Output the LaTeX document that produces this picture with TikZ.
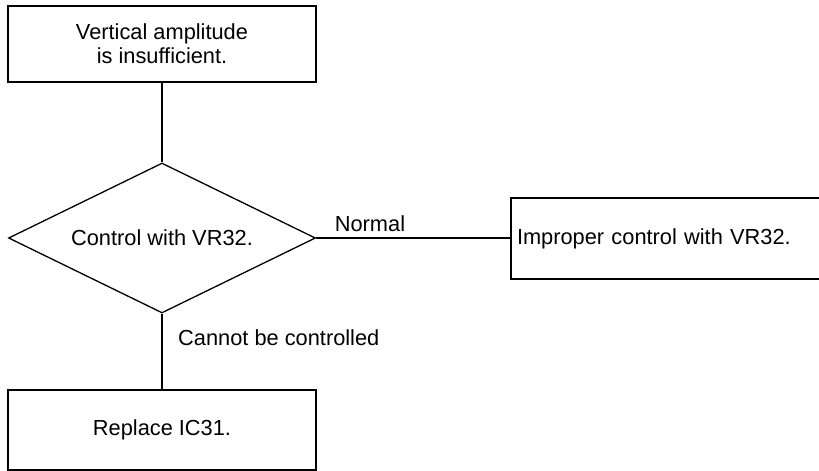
\documentclass[tikz,border=0pt]{standalone}
\usepackage{fontspec}
\setmainfont{Liberation Sans}
\usetikzlibrary{shapes.geometric}
\begin{document}
\begin{tikzpicture}[x=1pt,y=-1pt,
  every node/.style={font=\fontsize{21.8}{24}\selectfont, inner sep=0pt},
  box/.style={draw, line width=1.3pt, align=center},
  dec/.style={draw, diamond, aspect=2.05, line width=1.3pt, minimum width=307pt, minimum height=150pt},
  conn/.style={line width=1.3pt}]
\useasboundingbox (0,0) rectangle (819,471);
\clip (0,0) rectangle (819,471);
\node[box, minimum width=308pt, minimum height=76pt] (top) at (162,44) {Vertical amplitude\\is insufficient.};
\node[dec] (dec) at (162,238) {Control with VR32.};
\node[box, minimum width=311pt, minimum height=81pt, text width=299pt, inner xsep=6pt, align=left] (right) at (666.5,238.5) {Improper control with VR32.};
\node[box, minimum width=308pt, minimum height=80pt] (bot) at (162,430) {Replace IC31.};
\draw[conn] (top.south) -- (dec.north);
\draw[conn] (dec.east) -- (dec.east -| right.west);
\draw[conn] (dec.south) -- (bot.north);
\node (normal) at (370,224) {Normal};
\node[anchor=west] (cbc) at (178,338) {Cannot be controlled};
\end{tikzpicture}
\end{document}
